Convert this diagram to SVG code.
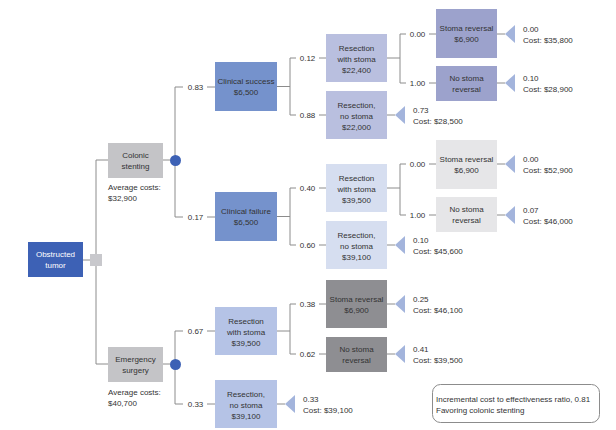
<svg xmlns="http://www.w3.org/2000/svg" width="616" height="430" viewBox="0 0 616 430">
<defs>
<style>
text{font-family:"Liberation Sans",Arial,sans-serif;font-size:8px;fill:#333}
.c{text-anchor:middle}
.w{fill:#fff}
.ln{fill:none;stroke:#8c8c8c;stroke-width:1}
.tri{fill:#a3b4dc}
.blue{fill:#3d61b5}
.gray{fill:#c4c4c7}
.mid{fill:#7592cc}
.lav{fill:#b9bfdf}
.lav2{fill:#9ca2cc}
.pale{fill:#d6def0}
.pgray{fill:#e6e6e8}
.em{fill:#b5c3e6}
.dark{fill:#8e8e92}
</style>
</defs>
<rect width="616" height="430" fill="#fff"/>
<g id="connectors" class="ln">
<path d="M83,260H90M96,160V364M96,160H108M96,364H108"/>
<path d="M163,160H170M175,87V217M175,87H183M207,87H215M175,217H183M207,217H215"/>
<path d="M277,86.5H290M290,58V115M290,58H296M319,58H326M290,115H296M319,115H326"/>
<path d="M387,58H400M400,34V83M400,34H406M429,34H436M400,83H406M429,83H436"/>
<path d="M497,34H505M497,83H505M387,115H395"/>
<path d="M277,216.5H290M290,188V245M290,188H296M319,188H326M290,245H296M319,245H326"/>
<path d="M387,188H400M400,164V215M400,164H406M429,164H436M400,215H406M429,215H436"/>
<path d="M497,164H505M497,215H505M387,245H395"/>
<path d="M163,364H170M175,331V404M175,331H183M207,331H215M175,404H183M207,404H215"/>
<path d="M277,331H290M290,304V354M290,304H296M319,304H326M290,354H296M319,354H326"/>
<path d="M387,304H395M387,354H395M277,404H285"/>
</g>
<g id="probabilities">
<text class="c" x="195.5" y="90">0.83</text>
<text class="c" x="195.5" y="220">0.17</text>
<text class="c" x="195.5" y="334">0.67</text>
<text class="c" x="195.5" y="407">0.33</text>
<text class="c" x="307.5" y="61">0.12</text>
<text class="c" x="307.5" y="118">0.88</text>
<text class="c" x="307.5" y="191">0.40</text>
<text class="c" x="307.5" y="248">0.60</text>
<text class="c" x="307.5" y="307">0.38</text>
<text class="c" x="307.5" y="357">0.62</text>
<text class="c" x="417.5" y="37">0.00</text>
<text class="c" x="417.5" y="86">1.00</text>
<text class="c" x="417.5" y="167">0.00</text>
<text class="c" x="417.5" y="218">1.00</text>
</g>
<g id="obstructed-tumor"><rect class="blue" x="28" y="242" width="55" height="35"/><text class="c w" x="55.5" y="257">Obstructed</text><text class="c w" x="55.5" y="268">tumor</text></g>
<g id="decision"><rect fill="#c8c8cc" x="90" y="254" width="12" height="12"/></g>
<g id="colonic-stenting"><rect class="gray" x="108" y="143" width="55" height="35"/><text class="c" x="135.5" y="158">Colonic</text><text class="c" x="135.5" y="169">stenting</text><text x="108" y="190">Average costs:</text><text x="108" y="201">$32,900</text></g>
<g id="emergency-surgery"><rect class="gray" x="108" y="347" width="55" height="35"/><text class="c" x="135.5" y="362">Emergency</text><text class="c" x="135.5" y="373">surgery</text><text x="108" y="395">Average costs:</text><text x="108" y="406">$40,700</text></g>
<g id="chance-stent"><circle class="blue" cx="175.5" cy="160.5" r="5.5"/></g>
<g id="chance-emergency"><circle class="blue" cx="175.5" cy="364.5" r="5.5"/></g>
<g id="clinical-success"><rect class="mid" x="215" y="62" width="62" height="49"/><text class="c" x="246" y="84">Clinical success</text><text class="c" x="246" y="95">$6,500</text></g>
<g id="clinical-failure"><rect class="mid" x="215" y="192" width="62" height="49"/><text class="c" x="246" y="214">Clinical failure</text><text class="c" x="246" y="225">$6,500</text></g>
<g id="cs-resection-stoma"><rect class="lav" x="326" y="34" width="61" height="48"/><text class="c" x="356.5" y="51">Resection</text><text class="c" x="356.5" y="62">with stoma</text><text class="c" x="356.5" y="73">$22,400</text></g>
<g id="cs-resection-nostoma"><rect class="lav" x="326" y="91" width="61" height="48"/><text class="c" x="356.5" y="108">Resection,</text><text class="c" x="356.5" y="119">no stoma</text><text class="c" x="356.5" y="130">$22,000</text></g>
<g id="cs-stoma-reversal"><rect class="lav2" x="436" y="9" width="61" height="49"/><text class="c" x="466.5" y="31">Stoma reversal</text><text class="c" x="466.5" y="42">$6,900</text></g>
<g id="cs-no-stoma-reversal"><rect class="lav2" x="436" y="66" width="61" height="35"/><text class="c" x="466.5" y="81">No stoma</text><text class="c" x="466.5" y="92">reversal</text></g>
<g id="cf-resection-stoma"><rect class="pale" x="326" y="164" width="61" height="48"/><text class="c" x="356.5" y="181">Resection</text><text class="c" x="356.5" y="192">with stoma</text><text class="c" x="356.5" y="203">$39,500</text></g>
<g id="cf-resection-nostoma"><rect class="pale" x="326" y="221" width="61" height="48"/><text class="c" x="356.5" y="238">Resection,</text><text class="c" x="356.5" y="249">no stoma</text><text class="c" x="356.5" y="260">$39,100</text></g>
<g id="cf-stoma-reversal"><rect class="pgray" x="436" y="140" width="61" height="49"/><text class="c" x="466.5" y="162">Stoma reversal</text><text class="c" x="466.5" y="173">$6,900</text></g>
<g id="cf-no-stoma-reversal"><rect class="pgray" x="436" y="197" width="61" height="35"/><text class="c" x="466.5" y="212">No stoma</text><text class="c" x="466.5" y="223">reversal</text></g>
<g id="es-resection-stoma"><rect class="em" x="215" y="307" width="62" height="48"/><text class="c" x="246" y="324">Resection</text><text class="c" x="246" y="335">with stoma</text><text class="c" x="246" y="346">$39,500</text></g>
<g id="es-resection-nostoma"><rect class="em" x="215" y="380" width="62" height="48"/><text class="c" x="246" y="397">Resection,</text><text class="c" x="246" y="408">no stoma</text><text class="c" x="246" y="419">$39,100</text></g>
<g id="es-stoma-reversal"><rect class="dark" x="326" y="280" width="61" height="48"/><text class="c" x="356.5" y="302">Stoma reversal</text><text class="c" x="356.5" y="313">$6,900</text></g>
<g id="es-no-stoma-reversal"><rect class="dark" x="326" y="337" width="61" height="35"/><text class="c" x="356.5" y="352">No stoma</text><text class="c" x="356.5" y="363">reversal</text></g>
<g id="outcome-1"><polygon class="tri" points="505,34 515,25 515,43"/><text x="523" y="32">0.00</text><text x="523" y="43">Cost: $35,800</text></g>
<g id="outcome-2"><polygon class="tri" points="505,83 515,74 515,92"/><text x="523" y="81">0.10</text><text x="523" y="92">Cost: $28,900</text></g>
<g id="outcome-3"><polygon class="tri" points="395,115 405,106 405,124"/><text x="413" y="113">0.73</text><text x="413" y="124">Cost: $28,500</text></g>
<g id="outcome-4"><polygon class="tri" points="505,164 515,155 515,173"/><text x="523" y="162">0.00</text><text x="523" y="173">Cost: $52,900</text></g>
<g id="outcome-5"><polygon class="tri" points="505,215 515,206 515,224"/><text x="523" y="213">0.07</text><text x="523" y="224">Cost: $46,000</text></g>
<g id="outcome-6"><polygon class="tri" points="395,245 405,236 405,254"/><text x="413" y="243">0.10</text><text x="413" y="254">Cost: $45,600</text></g>
<g id="outcome-7"><polygon class="tri" points="395,304 405,295 405,313"/><text x="413" y="302">0.25</text><text x="413" y="313">Cost: $46,100</text></g>
<g id="outcome-8"><polygon class="tri" points="395,354 405,345 405,363"/><text x="413" y="352">0.41</text><text x="413" y="363">Cost: $39,500</text></g>
<g id="outcome-9"><polygon class="tri" points="285,404 295,395 295,413"/><text x="303" y="402">0.33</text><text x="303" y="413">Cost: $39,100</text></g>
<g id="note"><rect x="432.5" y="384.5" width="167" height="38" rx="8" fill="#fff" stroke="#8c8c8c"/><text x="436" y="402">Incremental cost to effectiveness ratio, 0.81</text><text x="436" y="413">Favoring colonic stenting</text></g>
</svg>
